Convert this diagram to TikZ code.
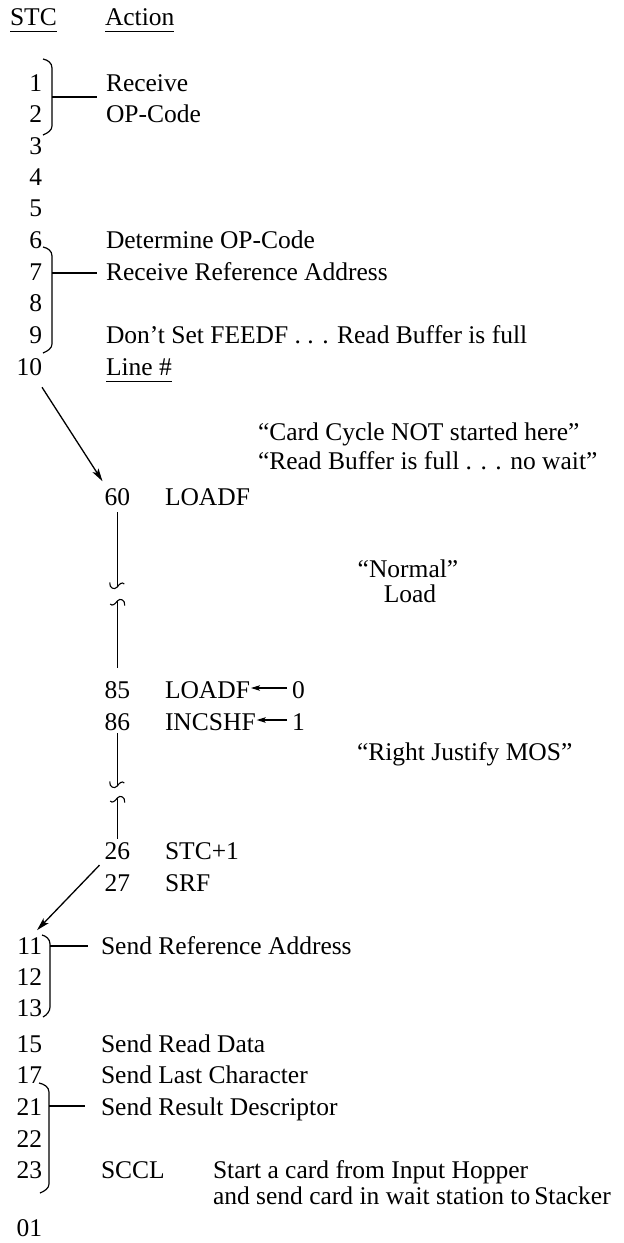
\documentclass[tikz,border=0pt]{standalone}
\usepackage{fontspec}
\setmainfont{Liberation Serif}
\usetikzlibrary{arrows.meta}
\begin{document}
\begin{tikzpicture}[x=1pt,y=-1pt,
  every node/.style={inner sep=0pt,outer sep=0pt,font=\fontsize{25.5}{30}\selectfont},
  num/.style={anchor=base east},
  txt/.style={anchor=base west},
  ln/.style={line width=1.1pt},
  ul/.style={line width=0.9pt},
  brace/.style={line width=1.2pt,line join=round},
  bigarrow/.style={line width=1.3pt,-{Stealth[length=13pt,width=7pt,inset=3pt]}},
  smallarrow/.style={line width=1.1pt,-{Stealth[length=9pt,width=5.5pt,inset=2pt]}},
  breaktop/.pic={\draw[ln] (-7.5,-3) .. controls (-8,2.5) and (-3,5) .. (0,1.5) .. controls (2,-1.5) and (5,-4) .. (7,-1.5);},
  breakbot/.pic={\draw[ln] (7.5,3) .. controls (8,-2.5) and (3,-5) .. (0,-1.5) .. controls (-2,1.5) and (-5,4) .. (-7,1.5);}]
\useasboundingbox (0,0) rectangle (624,1243);

% column headings
\node[txt] (hstc) at (10,25) {STC};
\node[txt] (hact) at (105,25) {Action};
\draw[ul] ([shift={(0,6)}]hstc.south west) -- ([shift={(0,6)}]hstc.south east);
\draw[ul] ([shift={(0,6)}]hact.south west) -- ([shift={(0,6)}]hact.south east);

% state counter values, first block
\node[num] (n1) at (42,91) {1};
\node[num] (n2) at (42,122) {2};
\node[num] (n3) at (42,154) {3};
\node[num] (n4) at (42,185) {4};
\node[num] (n5) at (42,216) {5};
\node[num] (n6) at (42,248) {6};
\node[num] (n7) at (42,280) {7};
\node[num] (n8) at (42,311) {8};
\node[num] (n9) at (42,343) {9};
\node[num] (n10) at (42,375) {10};

% actions, first block
\node[txt] (rcv) at (106,91) {Receive};
\node[txt] (opc) at (106,122) {OP-Code};
\node[txt] (det) at (106,248) {Determine OP-Code};
\node[txt] (rra) at (106,280) {Receive Reference Address};
\node[txt] (dsf) at (106,343) {Don’t Set FEEDF . . . Read Buffer is full};
\node[txt] (lno) at (106,375) {Line \#};
\draw[ul] ([shift={(0,6)}]lno.south west) -- ([shift={(0,6)}]lno.south east);

% brackets grouping states 1-2 and 7-9
\draw[brace] (43,59) .. controls (48,60) and (52,63) .. (52,68) -- (52,126) .. controls (52,130) and (48,133) .. (43,135);
\coordinate (bA) at (52,97);
\draw[ln, shorten >=9pt] (bA) -- (bA -| rcv.west);
\draw[brace] (43,247) .. controls (48,248) and (52,251) .. (52,256) -- (52,344) .. controls (52,348) and (48,351) .. (43,353);
\coordinate (bB) at (52,273);
\draw[ln, shorten >=9pt] (bB) -- (bB -| rra.west);

% notes for the load routine
\node[txt] (ccn) at (258,440) {“Card Cycle NOT started here”};
\node[txt] (rbf) at (258,469) {“Read Buffer is full . . . no wait”};

% line numbers of the load routine
\node[num] (n60) at (130,505) {60};
\node[txt] (lf1) at (165,505) {LOADF};
\node[anchor=base] (nor) at (408,577) {“Normal”};
\node[anchor=base] (lod) at (410,602) {Load};
\node[num] (n85) at (130,698) {85};
\node[txt] (lf0) at (165,698) {LOADF};
\node[txt] (z0) at (292,698) {0};
\node[num] (n86) at (130,730) {86};
\node[txt] (inc) at (165,730) {INCSHF};
\node[txt] (o1) at (292,730) {1};
\node[txt] (rj) at (357,760) {“Right Justify MOS”};
\node[num] (n26) at (130,859) {26};
\node[txt] (stc1) at (165,859) {STC+1};
\node[num] (n27) at (130,891) {27};
\node[txt] (srf) at (165,891) {SRF};

% assignments
\draw[smallarrow, shorten >=1pt, shorten <=5pt] ([shift={(0,-10)}]z0.base west) -- ([shift={(0,-10)}]z0.base west -| lf0.east);
\draw[smallarrow, shorten >=1pt, shorten <=5pt] ([shift={(0,-10)}]o1.base west) -- ([shift={(0,-10)}]o1.base west -| inc.east);

% jump from state 10 into the routine
\coordinate (a1s) at ([shift={(0,12)}]n10.south east);
\coordinate (a1e) at ([shift={(-2,-24)}]n60.south west);
\draw[bigarrow] (a1s) -- (a1e);

% broken flow line 60 ... 85
\coordinate (v1a) at ([shift={(0,7)}]n60.south);
\coordinate (v1b) at (v1a |- 0,587);
\coordinate (v1c) at (v1a |- 0,601);
\coordinate (v1d) at ([shift={(0,-13)}]n85.north);
\draw[ln] (v1a) -- (v1b);
\pic at ([shift={(0,-1.5)}]v1b) {breaktop};
\pic at ([shift={(0,1.5)}]v1c) {breakbot};
\draw[ln] (v1c) -- (v1d);

% broken flow line 86 ... 26
\coordinate (v2a) at ([shift={(0,3)}]n86.south);
\coordinate (v2b) at (v2a |- 0,786);
\coordinate (v2c) at (v2a |- 0,798);
\coordinate (v2d) at ([shift={(0,-3)}]n26.north);
\draw[ln] (v2a) -- (v2b);
\pic at ([shift={(0,-1.5)}]v2b) {breaktop};
\pic at ([shift={(0,1.5)}]v2c) {breakbot};
\draw[ln] (v2c) -- (v2d);

% state counter values, second block
\node[num] (n11) at (42,954) {11};
\node[num] (n12) at (42,985) {12};
\node[num] (n13) at (42,1016) {13};
\node[num] (n15) at (42,1052) {15};
\node[num] (n17) at (42,1083) {17};
\node[num] (n21) at (42,1115) {21};
\node[num] (n22) at (42,1147) {22};
\node[num] (n23) at (42,1178) {23};
\node[num] (n01) at (42,1236) {01};

% return from the routine to state 11
\coordinate (a2s) at ([shift={(-5,-9)}]n27.north west);
\coordinate (a2e) at ([shift={(-5,-7)}]n11.north east);
\draw[bigarrow] (a2s) -- (a2e);

% actions, second block
\node[txt] (sra) at (101,954) {Send Reference Address};
\node[txt] (srd) at (101,1052) {Send Read Data};
\node[txt] (slc) at (101,1083) {Send Last Character};
\node[txt] (srs) at (101,1115) {Send Result Descriptor};
\node[txt] (sccl) at (101,1178) {SCCL};
\node[txt] (sac) at (213,1178) {Start a card from Input Hopper};
\node[txt] (asc) at (213,1204) {and send card in wait station to\kern4pt Stacker};

% brackets grouping states 11-13 and 21-23
\draw[brace] (42,935) .. controls (46,936) and (50,939) .. (50,944) -- (50,1007) .. controls (50,1011) and (47,1015) .. (43,1017);
\coordinate (bC) at (50,946);
\draw[ln, shorten >=13pt] (bC) -- (bC -| sra.west);
\draw[brace] (39,1083) .. controls (44,1084) and (49,1087) .. (49,1092) -- (49,1184) .. controls (49,1188) and (45,1191) .. (40,1193);
\coordinate (bD) at (49,1106);
\draw[ln, shorten >=16pt] (bD) -- (bD -| srs.west);
\end{tikzpicture}
\end{document}
